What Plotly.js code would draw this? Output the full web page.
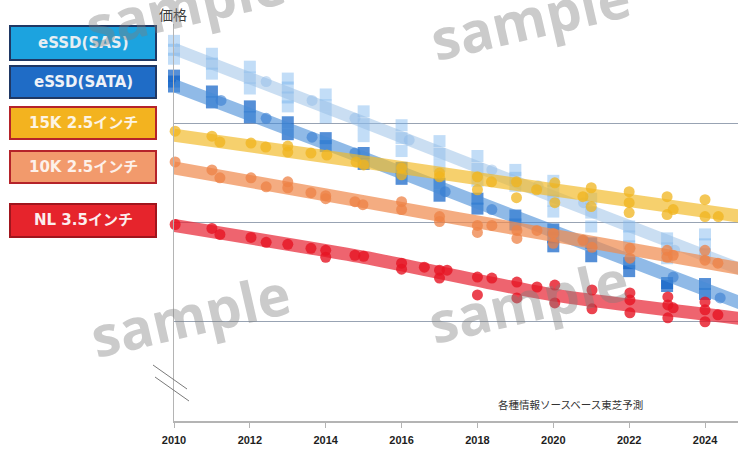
<!DOCTYPE html>
<html>
<head>
<meta charset="utf-8">
<script src="https://cdn.plot.ly/plotly-3.0.1.min.js"></script>
<style>
  html, body { margin: 0; padding: 0; background: #ffffff; }
  #chart { width: 738px; height: 449px; }
</style>
</head>
<body>
<div id="chart"></div>
<script>
// ---- Series data (relative price index, no unit shown on the axis) ----

// Trend bands, sampled every five years
const trendYears = [2010, 2015, 2020, 2025];
const trendSAS  = [3.75, 3.01, 2.26, 1.52];
const trendSATA = [3.38, 2.65, 1.91, 1.18];
const trend15K  = [2.88, 2.61, 2.33, 2.06];
const trend10K  = [2.55, 2.21, 1.87, 1.53];
const trendNL   = [1.97, 1.65, 1.27, 1.03];

// SSD price ranges per year (stacked square markers)
const ssdYears = [2010, 2011, 2012, 2013, 2014, 2015, 2016, 2017, 2018, 2019, 2020, 2021, 2022, 2023, 2024, 2025];
const sasRange = [
  [3.83, 3.74, 3.65], [3.70, 3.60, 3.50], [3.57, 3.46, 3.35], [3.45, 3.36, 3.26, 3.17],
  [3.29, 3.18, 3.06], [3.12, 2.99, 2.87], [2.98, 2.85, 2.72], [2.82, 2.69, 2.57],
  [2.67, 2.54, 2.42], [2.53, 2.45, 2.37], [2.42, 2.32, 2.22, 2.11], [2.24, 2.10, 1.96],
  [1.96, 1.86, 1.76], [1.84, 1.74, 1.64], [1.88, 1.78, 1.68], [1.90, 1.80]
];
const sataRange = [
  [3.48, 3.42, 3.37], [3.32, 3.21], [3.17, 3.06], [3.01, 2.89],
  [2.85, 2.77], [2.70, 2.59], [2.55, 2.44], [2.39, 2.27],
  [2.24, 2.14], [2.07, 1.98], [1.93, 1.85, 1.76], [1.79, 1.66],
  [1.59, 1.51], [1.39, 1.36], [1.38, 1.28], [1.32]
];

// Individual SSD observations
const sasPtX  = [2012.43, 2013.64, 2014.77, 2016.2, 2018.38, 2019.6, 2020.8, 2023.2];
const sasPtY  = [3.42, 3.23, 3.05, 2.83, 2.53, 2.37, 2.20, 1.72];
const sataPtX = [2011.24, 2012.43, 2013.64, 2014.77, 2017.15, 2018.38, 2020.8, 2023.16, 2024.4];
const sataPtY = [3.23, 3.05, 2.86, 2.70, 2.31, 2.13, 1.82, 1.45, 1.24];

// HDD observations
const hdd15X = [2010.03, 2011.0, 2011.21, 2012.03, 2012.42, 2013.0, 2013.0, 2013.61, 2014.03, 2014.8, 2015.0,
  2016.0, 2016.0, 2017.0, 2017.0, 2018.0, 2018.0, 2018.37, 2019.03, 2019.03, 2019.56, 2020.04, 2020.04,
  2020.78, 2021.0, 2021.0, 2022.0, 2022.0, 2022.0, 2023.0, 2023.0, 2023.16, 2024.0, 2024.0, 2024.35];
const hdd15Y = [2.92, 2.87, 2.81, 2.80, 2.76, 2.77, 2.71, 2.70, 2.68, 2.61, 2.58,
  2.55, 2.48, 2.50, 2.46, 2.46, 2.33, 2.41, 2.41, 2.25, 2.33, 2.40, 2.20,
  2.26, 2.35, 2.16, 2.31, 2.20, 2.10, 2.26, 2.08, 2.13, 2.23, 2.06, 2.06];

const hdd10X = [2010.03, 2011.0, 2011.21, 2012.03, 2012.43, 2013.0, 2013.0, 2013.61, 2014.0, 2014.0, 2014.77,
  2014.98, 2016.0, 2016.0, 2017.0, 2017.0, 2018.0, 2018.0, 2018.38, 2019.04, 2019.04, 2019.57, 2020.0,
  2020.0, 2020.78, 2021.02, 2022.02, 2022.02, 2023.0, 2023.0, 2023.16, 2024.0, 2024.0, 2024.34];
const hdd10Y = [2.61, 2.53, 2.45, 2.45, 2.36, 2.41, 2.35, 2.30, 2.27, 2.24, 2.21,
  2.18, 2.21, 2.13, 2.06, 2.01, 1.97, 1.90, 1.97, 1.92, 1.84, 1.92, 1.89,
  1.79, 1.82, 1.75, 1.74, 1.64, 1.72, 1.65, 1.67, 1.72, 1.62, 1.59];

const nlX = [2010.03, 2011.0, 2011.21, 2012.03, 2012.43, 2013.0, 2013.61, 2014.0, 2014.0, 2014.77, 2015.0,
  2016.0, 2016.0, 2016.6, 2017.0, 2017.0, 2017.2, 2018.0, 2018.0, 2018.38, 2019.04, 2019.04, 2019.57,
  2020.04, 2020.04, 2021.02, 2021.02, 2022.02, 2022.02, 2022.02, 2023.02, 2023.02, 2023.16, 2023.02,
  2024.0, 2024.0, 2024.0, 2024.34];
const nlY = [1.98, 1.94, 1.88, 1.85, 1.80, 1.78, 1.74, 1.72, 1.65, 1.67, 1.66,
  1.59, 1.53, 1.55, 1.52, 1.44, 1.52, 1.45, 1.27, 1.44, 1.40, 1.24, 1.35,
  1.37, 1.19, 1.32, 1.13, 1.29, 1.22, 1.09, 1.25, 1.17, 1.14, 1.04,
  1.20, 1.12, 1.00, 1.07];

// Legend box labels
const legendLabels = ["eSSD(SAS)", "eSSD(SATA)", "15K 2.5インチ", "10K 2.5インチ", "NL 3.5インチ"];
const xTickVals = [2010, 2012, 2014, 2016, 2018, 2020, 2022, 2024];

// ---- Helpers ----
function flatten(years, ranges) {
  const xs = [], ys = [];
  years.forEach((yr, i) => ranges[i].forEach(v => { xs.push(yr); ys.push(v); }));
  return { xs, ys };
}

// plot box in page pixels
const W = 738, H = 449, L = 174, R = 0, T = 24, B = 28;
const pw = W - L - R, ph = H - T - B;
const px = x => (x - L) / pw;          // page px -> paper x
const py = y => (H - B - y) / ph;      // page px -> paper y

function band(x, y, color, width) {
  return { type: 'scatter', mode: 'lines', x, y, hoverinfo: 'skip', showlegend: false,
           line: { color, width, shape: 'spline', smoothing: 0.6 } };
}
function dots(x, y, color, symbol, size) {
  return { type: 'scatter', mode: 'markers', x, y, hoverinfo: 'skip', showlegend: false,
           cliponaxis: false, marker: { color, symbol, size, line: { width: 0 } } };
}

const sasSq = flatten(ssdYears, sasRange);
const sataSq = flatten(ssdYears, sataRange);

const traces = [
  dots(sasSq.xs, sasSq.ys, 'rgba(110,175,235,0.42)', 'square', 12),
  band(trendYears, trendSAS, 'rgba(150,190,230,0.5)', 12),
  dots(sasPtX, sasPtY, 'rgba(140,185,230,0.45)', 'circle', 11),
  dots(sataSq.xs, sataSq.ys, 'rgba(20,100,200,0.72)', 'square', 12),
  band(trendYears, trendSATA, 'rgba(70,140,215,0.6)', 13),
  dots(sataPtX, sataPtY, 'rgba(55,125,210,0.6)', 'circle', 11),
  band(trendYears, trend15K, 'rgba(242,186,40,0.68)', 13),
  dots(hdd15X, hdd15Y, 'rgba(240,180,30,0.75)', 'circle', 11),
  band(trendYears, trend10K, 'rgba(240,140,80,0.72)', 13),
  dots(hdd10X, hdd10Y, 'rgba(238,130,70,0.75)', 'circle', 11),
  band(trendYears, trendNL, 'rgba(232,40,55,0.72)', 13),
  dots(nlX, nlY, 'rgba(230,20,35,0.8)', 'circle', 11)
];

// Legend boxes drawn to the left of the plot
const boxes = [
  { top: 26, bottom: 60, fill: '#1ca3df', edge: '#1f3864', text: '#e6eef3' },
  { top: 66, bottom: 98, fill: '#1f6cc6', edge: '#1f3864', text: '#eef2f8' },
  { top: 107, bottom: 139, fill: '#f3b31f', edge: '#b5232a', text: '#fdf4e4' },
  { top: 151, bottom: 183, fill: '#f29a6c', edge: '#b5232a', text: '#fdf1ea' },
  { top: 204, bottom: 237, fill: '#e6242c', edge: '#a0151d', text: '#fbeeee' }
];

const shapes = [];
const annotations = [];
boxes.forEach((b, i) => {
  shapes.push({ type: 'rect', xref: 'paper', yref: 'paper',
    x0: px(10), x1: px(156), y0: py(b.bottom), y1: py(b.top),
    fillcolor: b.fill, line: { color: b.edge, width: 2 }, layer: 'above' });
  annotations.push({ xref: 'paper', yref: 'paper', x: px(83), y: py((b.top + b.bottom) / 2),
    xanchor: 'center', yanchor: 'middle', showarrow: false,
    text: '<b>' + legendLabels[i] + '</b>',
    font: { family: 'DejaVu Sans, Noto Sans CJK JP, sans-serif', size: 15, color: b.text } });
});

// axis break marks
shapes.push({ type: 'line', xref: 'paper', yref: 'paper', x0: px(153), y0: py(365), x1: px(187), y1: py(389),
  line: { color: '#7a7a7a', width: 1 } });
shapes.push({ type: 'line', xref: 'paper', yref: 'paper', x0: px(155), y0: py(377), x1: px(189), y1: py(401),
  line: { color: '#7a7a7a', width: 1 } });

// axis title and source note
annotations.push({ xref: 'paper', yref: 'paper', x: px(173), y: py(14), xanchor: 'center', yanchor: 'middle',
  showarrow: false, text: '価格',
  font: { family: 'Noto Sans CJK JP, sans-serif', size: 14, color: '#3a3a3a' } });
annotations.push({ xref: 'paper', yref: 'paper', x: px(645), y: py(404), xanchor: 'right', yanchor: 'middle',
  showarrow: false, text: '各種情報ソースベース東芝予測',
  font: { family: 'Noto Sans CJK JP, sans-serif', size: 10.5, color: '#333333' } });

// "sample" stamps across the figure
[[185, 4], [530, 17], [190, 314], [528, 300]].forEach(p => {
  annotations.push({ xref: 'paper', yref: 'paper', x: px(p[0]), y: py(p[1]), xanchor: 'center', yanchor: 'middle',
    showarrow: false, text: '<b>sample</b>', textangle: -13,
    font: { family: 'Open Sans, sans-serif', size: 56, color: 'rgba(125,125,125,0.4)' } });
});

const layout = {
  width: W, height: H,
  margin: { l: L, r: R, t: T, b: B, pad: 0 },
  paper_bgcolor: '#ffffff', plot_bgcolor: '#ffffff',
  showlegend: false,
  xaxis: {
    range: [2010, 2010 + pw / 37.93], tickvals: xTickVals, ticktext: xTickVals.map(String),
    showgrid: false, zeroline: false, showline: true, linecolor: '#b4b4b4', linewidth: 1.5,
    ticks: 'outside', ticklen: 5, tickcolor: '#b4b4b4', ticklabelstandoff: 3,
    tickfont: { family: 'Liberation Sans, Arial, sans-serif', size: 11, color: '#1e1e1e', weight: 'bold' }
  },
  yaxis: {
    range: [0, 4], dtick: 1, tick0: 0, showticklabels: false, ticks: '',
    showgrid: true, gridcolor: '#98a3b3', gridwidth: 1, zeroline: false,
    showline: true, linecolor: '#b4b4b4', linewidth: 1.5
  },
  shapes, annotations
};

Plotly.newPlot('chart', traces, layout, { staticPlot: true, displayModeBar: false });
</script>
</body>
</html>
